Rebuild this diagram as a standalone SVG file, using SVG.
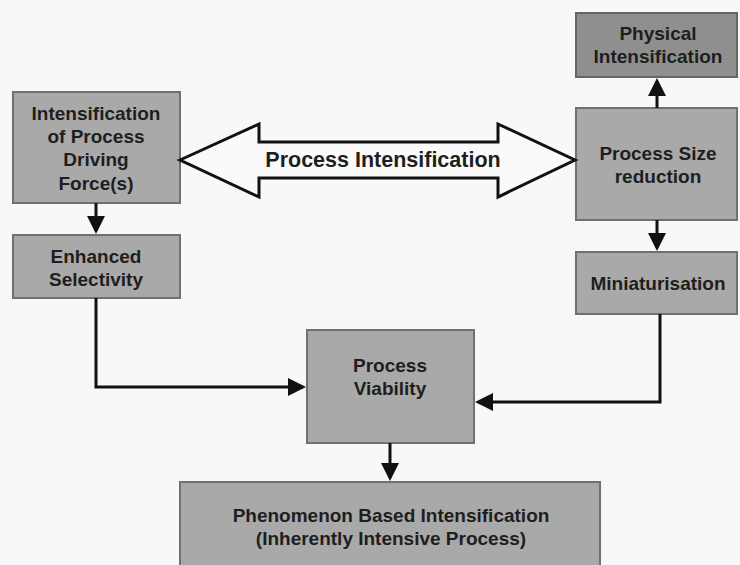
<svg xmlns="http://www.w3.org/2000/svg" width="740" height="565" viewBox="0 0 740 565">
<defs>
<style>
.box{fill:#a9a9a9;stroke:#707070;stroke-width:2}
.dark{fill:#8f8f8f;stroke:#666;stroke-width:2}
.t{font-family:"Liberation Sans",Arial,sans-serif;font-weight:bold;font-size:19px;fill:#1e1e1e;text-anchor:middle}
.big{font-size:21.5px}
.ln{fill:none;stroke:#111;stroke-width:3}
</style>
<marker id="ah" markerWidth="6" markerHeight="6" refX="5" refY="3" orient="auto" markerUnits="strokeWidth">
<path d="M0,0 L6,3 L0,6 z" fill="#111"/>
</marker>
</defs>
<rect width="740" height="565" fill="#f8f8f8"/>
<g id="n-driving">
<rect class="box" x="13" y="92" width="167" height="111"/>
<text class="t" x="96" y="120">Intensification</text>
<text class="t" x="96" y="143">of Process</text>
<text class="t" x="96" y="166">Driving</text>
<text class="t" x="96" y="190">Force(s)</text>
</g>
<g id="n-selectivity">
<rect class="box" x="13" y="235" width="167" height="63"/>
<text class="t" x="96" y="263">Enhanced</text>
<text class="t" x="96" y="286">Selectivity</text>
</g>
<g id="n-physical">
<rect class="dark" x="576" y="13" width="161" height="64"/>
<text class="t" x="658" y="40">Physical</text>
<text class="t" x="658" y="63">Intensification</text>
</g>
<g id="n-size">
<rect class="box" x="576" y="108" width="161" height="112"/>
<text class="t" x="658" y="160">Process Size</text>
<text class="t" x="658" y="183">reduction</text>
</g>
<g id="n-mini">
<rect class="box" x="576" y="252" width="161" height="62"/>
<text class="t" x="658" y="290">Miniaturisation</text>
</g>
<g id="n-viability">
<rect class="box" x="307" y="330" width="167" height="113"/>
<text class="t" x="390" y="372">Process</text>
<text class="t" x="390" y="395">Viability</text>
</g>
<g id="n-phenomenon">
<rect class="box" x="180" y="482" width="420" height="90"/>
<text class="t" x="391" y="522">Phenomenon Based Intensification</text>
<text class="t" x="391" y="545">(Inherently Intensive Process)</text>
</g>
<g id="n-pi">
<path d="M180,160 L259,124 L259,142 L498,142 L498,124 L575,160 L498,197 L498,178 L259,178 L259,197 Z" fill="#fafafa" stroke="#111" stroke-width="3" stroke-linejoin="miter"/>
<text class="t big" x="383" y="167">Process Intensification</text>
</g>
<g id="connectors">
<line class="ln" x1="96" y1="203" x2="96" y2="231" marker-end="url(#ah)"/>
<line class="ln" x1="657" y1="108" x2="657" y2="81" marker-end="url(#ah)"/>
<line class="ln" x1="657" y1="220" x2="657" y2="248" marker-end="url(#ah)"/>
<polyline class="ln" points="96,298 96,387 303,387" marker-end="url(#ah)"/>
<polyline class="ln" points="660,314 660,402 478,402" marker-end="url(#ah)"/>
<line class="ln" x1="390" y1="443" x2="390" y2="478" marker-end="url(#ah)"/>
</g>
</svg>
